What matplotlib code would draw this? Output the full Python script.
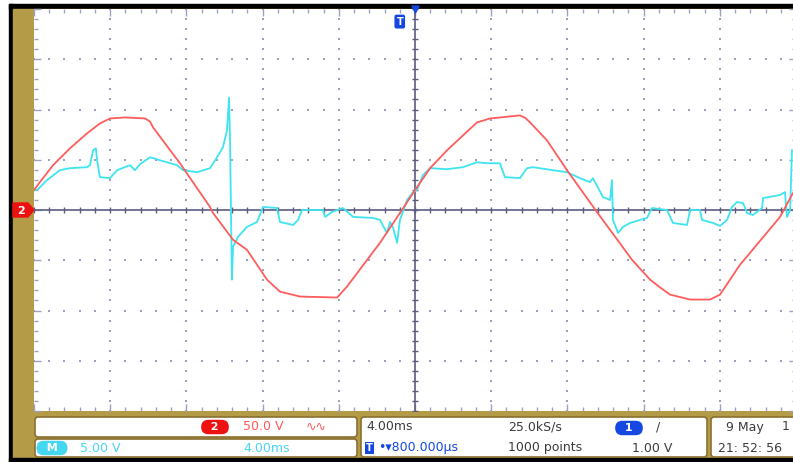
import numpy as np
import matplotlib
matplotlib.use("Agg")
import matplotlib.pyplot as plt
from matplotlib.patches import Rectangle, FancyBboxPatch, Polygon

# channel 2 (50 V/div), time in ms relative to screen centre
ch2_time = [-20.0, -19.69, -19.0, -18.11, -17.22, -16.54, -16.01, -15.22, -14.17, -13.91, -13.75, -12.34,
            -10.76, -10.6, -9.55, -8.82, -7.77, -7.09, -6.04, -4.09, -3.57, -1.84,
            -0.79, 0.0, 0.79, 1.68, 3.25, 3.94, 5.51, 5.8, 6.04, 6.93, 7.98,
            9.55, 10.24, 11.39, 12.34, 12.86, 13.39, 14.44, 15.49, 16.01, 17.06, 17.59,
            19.16, 19.84]
ch2_volts = [19.8, 27.7, 44.6, 61.4, 76.2, 86.1, 91.1, 92.1, 91.1, 88.0, 82.2, 46.5,
             3.0, -3.0, -29.7, -39.6, -69.3, -81.2, -86.1, -87.1, -76.2, -32.7,
             -3.0, 19.8, 41.6, 59.4, 87.1, 91.1, 94.1, 91.5, 87.1, 69.3, 39.6,
             -2.0, -19.8, -49.5, -69.3, -77.0, -84.2, -89.1, -89.1, -84.2, -54.5, -42.6,
             -6.9, 16.8]

# math channel M (5 V/div)
m_time = [-20.0, -19.84, -19.32, -18.64, -18.11, -17.22, -17.06, -16.9, -16.75, -16.69,
          -16.54, -16.01, -15.64, -14.96, -14.7, -14.44, -13.91, -13.39, -12.49, -12.18,
          -11.44, -10.76, -10.39, -10.08, -9.87, -9.76, -9.71, -9.61, -9.55, -9.29,
          -8.82, -8.29, -7.98, -7.24, -7.09, -6.4, -6.14, -5.93, -4.83, -4.72,
          -4.36, -3.78, -3.25, -2.2, -1.84, -1.47, -1.31, -1.15, -0.94, -0.79,
          -0.42, -0.1, 0.1, 0.42, 0.79, 1.68, 2.52, 3.25, 3.78, 4.46,
          4.72, 5.51, 5.88, 6.19, 7.24, 7.98, 8.66, 9.19, 9.34, 9.87,
          10.24, 10.34, 10.39, 10.66, 10.92, 11.29, 11.81, 12.18, 12.44, 13.23,
          13.54, 14.28, 14.44, 14.96, 15.07, 15.64, 16.01, 16.38, 16.64, 16.9,
          17.22, 17.43, 17.74, 18.22, 18.27, 19.16, 19.42, 19.53, 19.69, 19.79]
m_volts = [1.98, 1.98, 2.97, 3.96, 4.16, 4.26, 4.46, 5.94, 6.14, 4.95,
           3.27, 3.17, 3.96, 4.46, 3.96, 4.55, 5.25, 4.95, 4.46, 3.96,
           3.76, 4.16, 5.25, 6.24, 7.92, 11.19, 6.93, -6.93, -3.66, -2.67,
           -1.68, -1.19, 0.3, 0.2, -1.19, -1.49, -0.99, 0.0, 0.0, -0.69,
           -0.2, 0.2, -0.69, -0.79, -0.99, -2.28, -1.19, -1.78, -3.27, -0.99,
           0.99, 1.78, 1.98, 3.47, 4.16, 4.06, 4.26, 4.75, 4.65, 4.65,
           3.27, 3.17, 4.16, 4.26, 3.96, 3.76, 3.17, 2.77, 3.17, 1.29,
           0.99, 2.97, -0.99, -2.28, -1.68, -1.29, -0.99, -0.79, 0.2, 0.0,
           -1.29, -1.49, 0.0, 0.0, -0.99, -1.29, -1.58, -0.99, 0.3, 0.79,
           0.69, -0.3, -0.5, 0.2, 1.19, 1.49, 1.78, -0.69, 0.0, 5.94]

ch2_scale = 50.0   # V/div
m_scale = 5.0      # V/div
time_div = 4.0     # ms/div
trig_pos = -0.8    # ms

gold = "#b39b48"
grid_col = "#9fa0c0"
axis_col = "#5c5c80"
txt_col = "#3c3c3c"

fig = plt.figure(figsize=(7.93, 4.62), dpi=100)

# background in pixel coordinates
bg = fig.add_axes([0, 0, 1, 1])
bg.set_xlim(0, 793)
bg.set_ylim(462, 0)
bg.axis("off")
bg.add_patch(Rectangle((9, 4), 800, 5, color="black"))
bg.add_patch(Rectangle((9, 4), 4, 460, color="black"))
bg.add_patch(Rectangle((13, 9), 800, 449, color=gold))
bg.add_patch(Rectangle((9, 458), 800, 10, color="black"))

# channel 2 ground marker
bg.add_patch(Polygon([(13, 203), (28, 203), (34, 210), (28, 217), (13, 217)], color="#ee1111"))
bg.text(21, 210.5, "2", color="white", fontsize=8, fontweight="bold", ha="center", va="center")

# bottom boxes
for x0, y0, w, h in [(35, 417, 322, 20), (35, 439, 322, 18), (361, 417, 346, 40), (711, 417, 100, 40)]:
    bg.add_patch(FancyBboxPatch((x0 + 3, y0 + 3), w - 6, h - 6, boxstyle="round,pad=3",
                                fc="white", ec="#8a7030", lw=1.2))

def badge(x, y, s, col):
    bg.text(x, y, s, color="white", fontsize=8, fontweight="bold", ha="center", va="center",
            bbox=dict(boxstyle="round,pad=0.2,rounding_size=0.65", fc=col, ec="none"))

badge(215, 427, "  2  ", "#ee1111")
bg.text(243, 427, "50.0 V", color="#ff5a5a", fontsize=9, va="center")
bg.text(306, 427, "∿∿", color="#ff5a5a", fontsize=9, va="center")
badge(52, 448, "  M  ", "#45d6f0")
bg.text(80, 448, "5.00 V", color="#45d6f0", fontsize=9, va="center")
bg.text(243, 448, "4.00ms", color="#45d6f0", fontsize=9, va="center")

bg.text(366, 427, "4.00ms", color=txt_col, fontsize=9, va="center")
bg.text(508, 427, "25.0kS/s", color=txt_col, fontsize=9, va="center")
badge(629, 428, "  1  ", "#1448e0")
bg.text(656, 427, "/", color=txt_col, fontsize=9, va="center")
bg.text(366, 448, "T", color="white", fontsize=7, fontweight="bold", va="center",
        bbox=dict(boxstyle="square,pad=0.15", fc="#1448e0", ec="none"))
bg.text(378, 448, "•▾800.000µs", color="#1448e0", fontsize=9, va="center")
bg.text(508, 448, "1000 points", color=txt_col, fontsize=9, va="center")
bg.text(632, 448, "1.00 V", color=txt_col, fontsize=9, va="center")
bg.text(726, 427, "9 May", color=txt_col, fontsize=9, va="center")
bg.text(782, 427, "1", color=txt_col, fontsize=9, va="center")
bg.text(718, 448, "21: 52: 56", color=txt_col, fontsize=9, va="center")

# graticule
ax = fig.add_axes([34 / 793, 1 - 411 / 462, 762 / 793, 402 / 462])
ax.set_facecolor("white")
ax.set_xlim(-5 * time_div, 5 * time_div)
ax.set_ylim(-4, 4)
for s in ax.spines.values():
    s.set_visible(False)
ax.set_xticks(np.arange(-20, 20.1, 4))
ax.set_xticks(np.arange(-20, 20.1, 0.8), minor=True)
ax.set_yticks(np.arange(-4, 4.1, 1))
ax.set_yticks(np.arange(-4, 4.1, 0.2), minor=True)
ax.tick_params(which="both", direction="in", colors=grid_col, labelleft=False, labelbottom=False,
               top=True, right=True, width=1)
ax.tick_params(which="major", length=5)
ax.tick_params(which="minor", length=3)

dx = np.arange(-20, 20.01, 0.8)
dy = np.arange(-4, 4.01, 0.2)
for gx in np.arange(-16, 16.1, 4):
    if gx != 0:
        ax.scatter(np.full(dy.size, gx), dy, s=2, marker="s", color=grid_col, linewidths=0, zorder=1)
for gy in np.arange(-3, 3.1, 1):
    if gy != 0:
        ax.scatter(dx, np.full(dx.size, gy), s=2, marker="s", color=grid_col, linewidths=0, zorder=1)

ax.axhline(0, color=axis_col, lw=1.2, zorder=2)
ax.axvline(0, color=axis_col, lw=1.2, zorder=2)
ax.scatter(dx, np.zeros(dx.size), marker="|", s=18, color=axis_col, linewidths=1, zorder=2)
ax.scatter(np.zeros(dy.size), dy, marker="_", s=18, color=axis_col, linewidths=1, zorder=2)

ax.plot(np.array(m_time), np.array(m_volts) / m_scale, color="#3ee4f0", lw=1.3, zorder=3)
ax.plot(np.array(ch2_time), np.array(ch2_volts) / ch2_scale, color="#ff5c5c", lw=1.3, zorder=4)

# trigger marker
ax.text(trig_pos, 3.75, "T", color="white", fontsize=7, fontweight="bold", ha="center", va="center",
        bbox=dict(boxstyle="round,pad=0.2", fc="#1448e0", ec="none"), zorder=5)
ax.scatter([0], [4], marker="v", s=25, color="#1448e0", zorder=5, clip_on=False)

fig.savefig("out.png", dpi=100)
